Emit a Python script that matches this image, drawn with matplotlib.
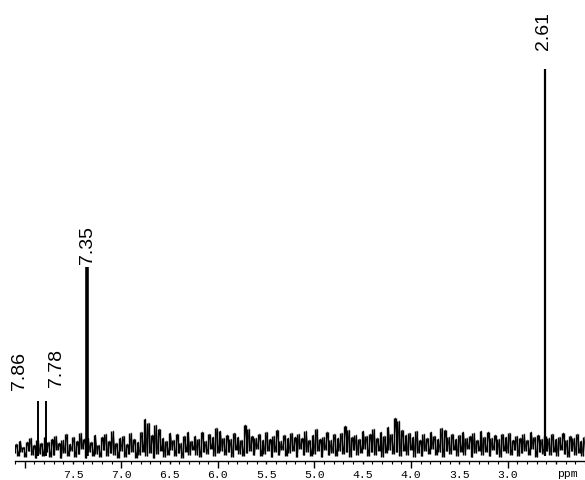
import numpy as np
import matplotlib
matplotlib.use("Agg")
import matplotlib.pyplot as plt

# peaks (ppm) and their heights (arbitrary intensity units)
peak_ppm = [7.86, 7.78, 7.35, 2.61]
peak_height = [45, 45, 179, 377]
peak_width = [1.4, 1.4, 2.6, 1.6]
peak_labels = ["7.86", "7.78", "7.35", "2.61"]
# where the labels sit (ppm, bottom of text)
label_ppm = [8.05, 7.67, 7.35, 2.625]
label_base = [57, 60, 183, 397]

# baseline noise, read left (8.10 ppm) to right (2.20 ppm)
noise = [
    -7, 2, -10, 5, -6, -1, -11, 4, -5, 8, -9, 1, -12, 6, -8, 3, -10, 9, -6, 4,
    -11, 7, -9, 10, -4, 3, -12, 6, -7, 12, -10, 2, -5, 9, -11, 5, -8, 13, -3, 7,
    -12, 8, -6, 4, -10, 11, -8, 1, -11, 9, -4, 12, -10, 5, -7, 15, -9, 3, -12, 8,
    -5, 10, -11, 2, -8, 13, -6, 7, -12, 4, -9, 14, -6, 27, -10, 23, -7, 11, -12, 21,
    -8, 17, -5, 8, -11, 5, -9, 13, -4, 6, -10, 12, -7, 3, -12, 10, -6, 14, -9, 5,
    -4, 10, -9, 7, -11, 14, -6, 5, -8, 12, -3, 9, -10, 18, -7, 15, -5, 8, -9, 11,
    -6, 7, -11, 13, -4, 9, -8, 6, -10, 21, -7, 17, -5, 10, -9, 8, -3, 12, -10, 6,
    -8, 14, -5, 7, -11, 10, -6, 16, -9, 5, -4, 11, -10, 8, -7, 13, -5, 9, -11, 12,
    -3, 8, -9, 15, -6, 6, -10, 11, -8, 17, -5, 7, -11, 9, -4, 14, -9, 6, -7, 12,
    -10, 8, -5, 13, -8, 20, -6, 16, -11, 9, -4, 11, -9, 7, -7, 15, -3, 10, -10, 12,
    -6, 17, -9, 8, -5, 14, -11, 10, -7, 19, -4, 12, -8, 28, -6, 25, -10, 16, -5, 11,
    -9, 13, -4, 9, -11, 15, -7, 6, -10, 12, -5, 8, -8, 14, -3, 10, -9, 7, -6, 18,
    -11, 16, -5, 9, -8, 12, -4, 7, -10, 11, -6, 14, -9, 8, -3, 10, -11, 13, -7, 6,
    -5, 15, -9, 9, -6, 14, -10, 8, -4, 11, -8, 7, -11, 12, -5, 9, -7, 13, -9, 6,
    -4, 10, -10, 8, -7, 12, -5, 6, -9, 14, -3, 9, -11, 11, -6, 7, -8, 10, -5, 8,
    -9, 12, -6, 7, -10, 9, -4, 13, -8, 6, -11, 10, -5, 8, -9, 12, -7, 5, -10, 9,
]
ppm_left, ppm_right = 8.10, 2.20
noise_ppm = np.linspace(ppm_left, ppm_right, len(noise))
noise = np.array(noise)

fig = plt.figure(figsize=(5.85, 4.81), dpi=100)
ax = fig.add_axes([15 / 585, 19 / 481, 570 / 585, 462 / 481])

# dense trace: each step between neighbours drawn as a vertical stroke
ax.vlines(noise_ppm[:-1], np.minimum(noise[:-1], noise[1:]),
          np.maximum(noise[:-1], noise[1:]), color="black", lw=1.0)
ax.plot(noise_ppm, noise, color="black", lw=0.6)
for p, h, w in zip(peak_ppm, peak_height, peak_width):
    ax.vlines(p, -10, h, color="black", lw=w)

for txt, x, y in zip(peak_labels, label_ppm, label_base):
    ax.text(x, y, txt, rotation=90, ha="center", va="bottom",
            fontsize=14, family="Liberation Sans")

ax.set_xlim(ppm_left, ppm_right)
ax.set_ylim(-15, 447)

for s in ["top", "left", "right"]:
    ax.spines[s].set_visible(False)
ax.spines["bottom"].set_linewidth(1.0)
ax.set_yticks([])

major = np.arange(8.0, 2.4, -0.5)
ax.set_xticks(major)
ax.set_xticklabels(["" if (v > 7.9 or v < 2.9) else f"{v:.1f}" for v in major],
                   family="Liberation Mono", fontsize=8.2)
ax.set_xticks(np.arange(8.1, 2.15, -0.1), minor=True)
ax.tick_params(axis="x", which="major", direction="out", length=2.5, width=1, pad=3)
ax.tick_params(axis="x", which="minor", direction="out", length=2.5, width=0.8)
for t, v in zip(ax.xaxis.get_major_ticks(), major):
    if abs(v - round(v)) < 1e-6:
        t.tick1line.set_markersize(5)
ax.text(2.38, -0.016, "ppm", transform=ax.get_xaxis_transform(),
        ha="center", va="top", family="Liberation Mono", fontsize=8.2)

fig.savefig("out.png", dpi=100)
